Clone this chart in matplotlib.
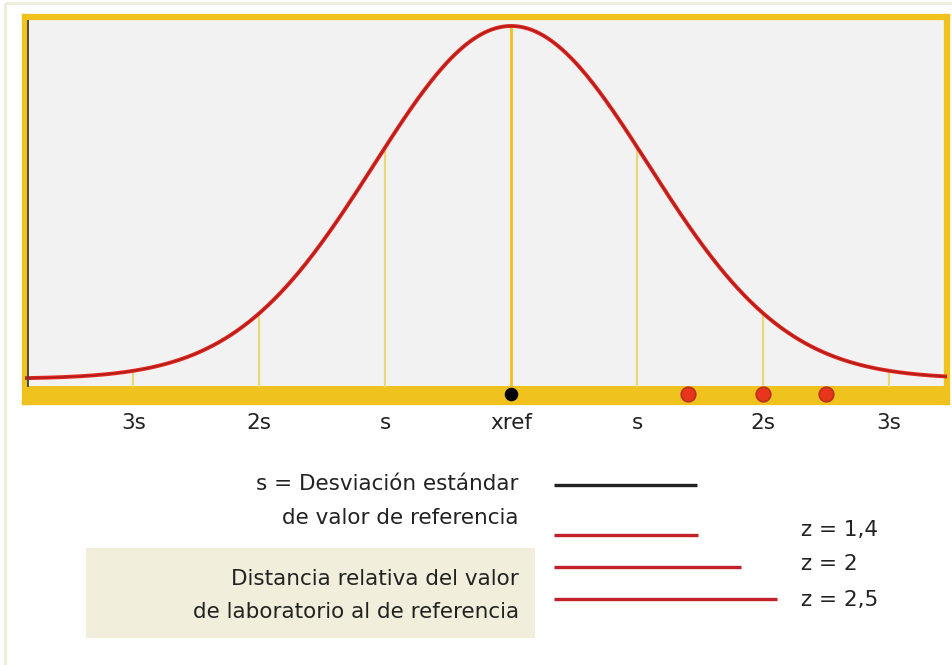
"""
Normal curve with z-score markers and a small legend underneath.
"""

import numpy as np
import matplotlib.pyplot as plt
from matplotlib.patches import Rectangle

plt.rcParams["font.family"] = ["DejaVu Sans"]

# ── Data ──────────────────────────────────────────────────────────────────────

sigma_pos   = [-3, -2, -1, 0, 1, 2, 3]
tick_labels = ["3s", "2s", "s", "xref", "s", "2s", "3s"]

z_values = [1.4, 2.0, 2.5]
z_labels = ["z = 1,4", "z = 2", "z = 2,5"]

curve_width = 1.09    # curve spread relative to s
curve_floor = 0.02    # tail height at the plot edges

legend_text = ["s = Desviación estándar", "de valor de referencia"]
box_text    = ["Distancia relativa del valor", "de laboratorio al de referencia"]

# ── Colours ───────────────────────────────────────────────────────────────────

YELLOW   = "#efc21e"
PALE_YEL = "#e9d878"
RED      = "#e2231d"
LEG_RED  = "#c4202a"
DARK     = "#222222"
PLOT_BG  = "#f2f2f2"
BOX_BG   = "#f1eedc"
FRAME    = "#efecd9"
FS       = 15.5

W, H = 952, 665
fig = plt.figure(figsize=(W / 100, H / 100), dpi=100)
fig.patch.set_facecolor("white")


def px_rect(x0, y0, x1, y1):
    """Figure-fraction rect from pixel corners (origin top-left)."""
    return [x0 / W, 1 - y1 / H, (x1 - x0) / W, (y1 - y0) / H]


# ── Overlay for frame and legend (pixel coords) ──────────────────────────────

ov = fig.add_axes([0, 0, 1, 1], zorder=0)
ov.set_xlim(0, W)
ov.set_ylim(H, 0)
ov.axis("off")
ov.add_patch(Rectangle((5, 3), W + 10, H + 10, fill=False, ec=FRAME, lw=2))

# ── Curve axes ────────────────────────────────────────────────────────────────

ax = fig.add_axes(px_rect(25, 17, 947, 402), zorder=1)
ax.set_facecolor(PLOT_BG)

x_left, x_right = -3.86, 3.46
band = 16 / 360
y_top = (386 - 17) / 360
ax.set_xlim(x_left, x_right)
ax.set_ylim(-band, y_top)


def curve_at(x):
    return curve_floor + (1 - curve_floor) * np.exp(-x ** 2 / (2 * curve_width ** 2))


xs = np.linspace(x_left, x_right, 600)
ys = curve_at(xs)

for p in sigma_pos:
    ax.plot([p, p], [0, curve_at(p)], color=YELLOW if p == 0 else PALE_YEL,
            lw=2.0 if p == 0 else 1.6, zorder=2)

ax.plot(xs, ys, color=RED, lw=2.8, zorder=3)
ax.plot(xs, ys, color="#5a1a1a", lw=0.8, alpha=0.5, zorder=4)

# yellow base band
ax.axhspan(-band, 0, color=YELLOW, zorder=1, lw=0)

# reference value and lab values on the band
ax.scatter([0], [-band / 2], s=95, color="black", zorder=5, lw=0)
ax.scatter(z_values, [-band / 2] * len(z_values), s=110, color="#e8361c",
           edgecolors="#b8301e", linewidths=1.2, zorder=5)

for side in ("top", "right", "bottom", "left"):
    ax.spines[side].set_color(YELLOW)
    ax.spines[side].set_linewidth(4.5)
ax.plot([x_left + 0.025] * 2, [0, y_top - 0.012], color="#4a4a3a", lw=1.4, zorder=6)

ax.set_xticks(sigma_pos)
ax.set_xticklabels(tick_labels, fontsize=FS, color=DARK)
ax.tick_params(axis="x", length=0, pad=8)
ax.set_yticks([])

# ── Legend ────────────────────────────────────────────────────────────────────

ov.add_patch(Rectangle((86, 548), 535 - 86, 638 - 548, color=BOX_BG, lw=0))

for i, t in enumerate(legend_text):
    ov.text(519, 484 + i * 34, t, ha="right", va="center", fontsize=FS, color=DARK)
for i, t in enumerate(box_text):
    ov.text(519, 579 + i * 33, t, ha="right", va="center", fontsize=FS, color=DARK)

line_x0 = 554
ov.plot([line_x0, 697], [485, 485], color=DARK, lw=2.4, solid_capstyle="butt")

line_rows = [535, 567, 599]
label_rows = [530, 564, 600]
for z, lbl, ly, ty in zip(z_values, z_labels, line_rows, label_rows):
    x_end = line_x0 + 43 + 72 * z
    ov.plot([line_x0, x_end], [ly, ly], color=LEG_RED, lw=2.4, solid_capstyle="butt")
    ov.text(801, ty, lbl, ha="left", va="center", fontsize=FS, color=DARK)

fig.savefig("out.png", dpi=100)
